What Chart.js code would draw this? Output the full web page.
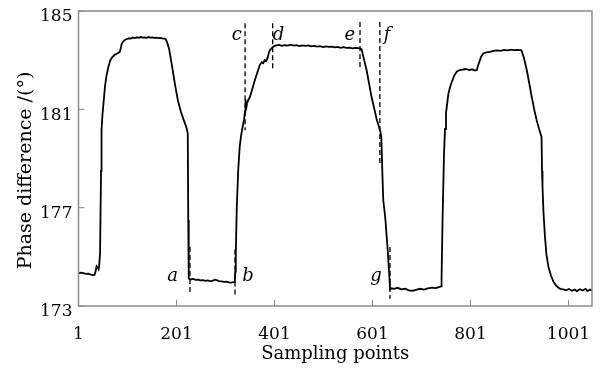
<!DOCTYPE html>
<html>
<head>
<meta charset="utf-8">
<script src="https://cdn.jsdelivr.net/npm/chart.js@4.4.1/dist/chart.umd.min.js"></script>
<style>
html, body { margin: 0; padding: 0; background: #fff; }
#wrap { width: 610px; height: 371px; }
</style>
</head>
<body>
<div id="wrap"><canvas id="thechart" width="610" height="371"></canvas></div>
<script>
// sampling point index and phase difference
var sampleX = [
  1, 6, 11, 16, 21, 26, 31, 34, 36, 38,
  40, 42, 43, 45, 47, 48, 50, 52, 55, 58,
  62, 66, 70, 75, 80, 85, 87, 89, 92, 96,
  100, 104, 108, 112, 116, 120, 124, 128, 132, 136,
  140, 144, 148, 152, 156, 160, 164, 168, 172, 176,
  179, 182, 186, 192, 198, 204, 210, 216, 222, 224,
  225, 226, 230, 235, 240, 245, 250, 255, 260, 265,
  270, 275, 280, 284, 288, 293, 298, 303, 308, 313,
  317, 320, 321, 322, 324, 327, 330, 333, 336, 339,
  341, 342, 343, 345, 348, 351, 356, 361, 366, 371,
  375, 378, 381, 384, 387, 390, 393, 396, 400, 405,
  410, 416, 422, 428, 434, 440, 446, 452, 458, 464,
  470, 476, 482, 488, 494, 500, 506, 512, 518, 524,
  530, 536, 542, 548, 554, 560, 566, 572, 577, 579,
  584, 589, 594, 599, 605, 610, 614, 617, 619, 621,
  623, 627, 632, 636, 637, 640, 645, 652, 660, 668,
  675, 682, 690, 698, 706, 714, 722, 730, 738, 741,
  742, 744, 747, 749, 751, 756, 760, 763, 768, 773,
  779, 786, 792, 798, 804, 810, 814, 816, 819, 823,
  827, 833, 841, 848, 855, 862, 870, 877, 884, 891,
  898, 905, 910, 916, 921, 926, 931, 936, 941, 946,
  947, 948, 950, 953, 956, 960, 965, 970, 975, 980,
  984, 990, 996, 1002, 1008, 1014, 1018, 1024, 1030, 1036,
  1040, 1045, 1049
];
var phaseY = [
  174.33, 174.36, 174.34, 174.31, 174.32, 174.28, 174.26, 174.27, 174.42, 174.62,
  174.58, 174.50, 174.60, 175.15, 178.50, 180.15, 180.80, 181.24, 181.92, 182.35,
  182.73, 183.00, 183.13, 183.22, 183.27, 183.33, 183.45, 183.65, 183.76, 183.83,
  183.86, 183.89, 183.88, 183.92, 183.90, 183.93, 183.91, 183.94, 183.92, 183.93,
  183.91, 183.94, 183.92, 183.93, 183.91, 183.92, 183.90, 183.91, 183.89, 183.88,
  183.85, 183.72, 183.45, 182.75, 182.00, 181.35, 180.90, 180.55, 180.22, 180.00,
  176.50, 174.12, 174.08, 174.10, 174.06, 174.07, 174.04, 174.05, 174.02, 174.04,
  174.00, 174.03, 174.07, 174.04, 174.01, 174.00, 173.98, 173.99, 173.96, 173.95,
  173.97, 173.98, 174.40, 175.15, 177.00, 178.53, 179.48, 179.95, 180.29, 180.60,
  180.95, 181.40, 180.98, 181.25, 181.40, 181.51, 181.85, 182.19, 182.50, 182.80,
  182.92, 182.88, 183.00, 182.96, 183.10, 183.34, 183.44, 183.50, 183.57, 183.60,
  183.62, 183.58, 183.61, 183.59, 183.63, 183.59, 183.61, 183.57, 183.60, 183.58,
  183.60, 183.56, 183.58, 183.55, 183.57, 183.53, 183.56, 183.54, 183.55, 183.52,
  183.54, 183.50, 183.53, 183.50, 183.51, 183.48, 183.50, 183.49, 183.47, 183.43,
  183.00, 182.59, 182.05, 181.51, 181.00, 180.56, 180.30, 180.10, 179.88, 178.50,
  177.30, 176.60, 175.30, 174.00, 173.68, 173.72, 173.70, 173.74, 173.68, 173.70,
  173.64, 173.62, 173.66, 173.70, 173.67, 173.72, 173.75, 173.73, 173.78, 173.80,
  174.20, 176.50, 179.20, 180.20, 180.84, 181.65, 181.95, 182.12, 182.38, 182.53,
  182.60, 182.62, 182.64, 182.60, 182.63, 182.58, 182.60, 182.75, 182.93, 183.15,
  183.27, 183.32, 183.34, 183.38, 183.40, 183.38, 183.42, 183.40, 183.43, 183.41,
  183.42, 183.40, 183.10, 182.59, 182.05, 181.51, 181.00, 180.56, 180.20, 179.88,
  178.50, 177.85, 176.80, 175.82, 175.10, 174.60, 174.25, 174.00, 173.85, 173.75,
  173.70, 173.68, 173.64, 173.69, 173.62, 173.67, 173.60, 173.68, 173.63, 173.70,
  173.61, 173.67, 173.62
];

// tick labels
var xTicks = [1, 201, 401, 601, 801, 1001];
var yTicks = [173, 177, 181, 185];

// dashed marker lines a..g and where their letters sit
var markerNames = ['a', 'b', 'c', 'd', 'e', 'f', 'g'];
var markerX = [228.5, 320.4, 341, 397.3, 575.5, 616, 636.7];
var markerTop = [175.4, 175.3, 184.5, 184.5, 184.55, 184.55, 175.4];
var markerBottom = [173.5, 173.45, 180.15, 182.6, 182.65, 178.8, 173.3];
var letterX = [193, 347, 324, 409, 555, 631, 608];
var letterY = [174.19, 174.2, 184.02, 184.02, 184.02, 184.02, 174.19];

var serif = '"DejaVu Serif", "Liberation Serif", serif';

var thePoints = [];
for (var i = 0; i < sampleX.length; i++) {
  thePoints.push({x: sampleX[i], y: phaseY[i]});
}

var theDatasets = [{
  data: thePoints,
  borderColor: '#000',
  borderWidth: 1.8,
  pointRadius: 0,
  tension: 0
}];

for (var m = 0; m < markerX.length; m++) {
  theDatasets.push({
    data: [{x: markerX[m], y: markerTop[m]}, {x: markerX[m], y: markerBottom[m]}],
    borderColor: '#000',
    borderWidth: 1.3,
    borderDash: [5, 3],
    pointRadius: 0
  });
}

// frame, inward ticks, marker letters and the y title
var frameAndLetters = {
  id: 'frameAndLetters',
  afterDatasetsDraw: function(chart) {
    var ctx = chart.ctx;
    var area = chart.chartArea;
    var xs = chart.scales.x;
    var ys = chart.scales.y;
    ctx.save();
    ctx.strokeStyle = '#8c8c8c';
    ctx.lineWidth = 1.5;
    ctx.strokeRect(area.left, area.top, area.right - area.left, area.bottom - area.top);
    ctx.lineWidth = 1;
    ctx.beginPath();
    for (var i = 0; i < xTicks.length; i++) {
      var px = xs.getPixelForValue(xTicks[i]);
      ctx.moveTo(px, area.bottom);
      ctx.lineTo(px, area.bottom - 6);
    }
    for (var j = 0; j < yTicks.length; j++) {
      var py = ys.getPixelForValue(yTicks[j]);
      ctx.moveTo(area.left, py);
      ctx.lineTo(area.left + 6, py);
    }
    ctx.stroke();

    ctx.fillStyle = '#000';
    ctx.font = 'italic 18px ' + serif;
    ctx.textAlign = 'center';
    ctx.textBaseline = 'middle';
    for (var k = 0; k < markerNames.length; k++) {
      ctx.fillText(markerNames[k], xs.getPixelForValue(letterX[k]), ys.getPixelForValue(letterY[k]));
    }

    ctx.font = '19px ' + serif;
    ctx.translate(26, (area.top + area.bottom) / 2 + 12);
    ctx.rotate(-Math.PI / 2);
    ctx.fillText('Phase difference /(°)', 0, 0);
    ctx.restore();
  }
};

var theChart = new Chart(document.getElementById('thechart').getContext('2d'), {
  type: 'line',
  data: { datasets: theDatasets },
  plugins: [frameAndLetters],
  options: {
    responsive: false,
    devicePixelRatio: 1,
    animation: false,
    layout: { padding: { top: 11, right: 18, left: 0, bottom: 0 } },
    plugins: { legend: { display: false }, tooltip: { enabled: false } },
    scales: {
      x: {
        type: 'linear',
        min: 1,
        max: 1049,
        grid: { display: false, drawTicks: false },
        border: { display: false },
        afterBuildTicks: function(scale) {
          scale.ticks = xTicks.map(function(v) { return {value: v}; });
        },
        ticks: {
          color: '#000',
          font: { family: serif, size: 17 },
          padding: 18,
          maxRotation: 0,
          autoSkip: false,
          callback: function(v) { return String(v); }
        },
        title: {
          display: true,
          text: 'Sampling points',
          color: '#000',
          font: { family: serif, size: 18 },
          padding: { top: 0, bottom: 6 }
        },
        afterFit: function(scale) {
          scale.height = 65;
          scale.paddingLeft = 0;
          scale.paddingRight = 0;
        }
      },
      y: {
        min: 173,
        max: 185,
        grid: { display: false, drawTicks: false },
        border: { display: false },
        afterBuildTicks: function(scale) {
          scale.ticks = yTicks.map(function(v) { return {value: v}; });
        },
        ticks: {
          color: '#000',
          font: { family: serif, size: 17 },
          padding: 6,
          labelOffset: 6
        },
        afterFit: function(scale) {
          scale.width = 78.5;
          scale.paddingTop = 0;
          scale.paddingBottom = 0;
        }
      }
    }
  }
});
</script>
</body>
</html>
